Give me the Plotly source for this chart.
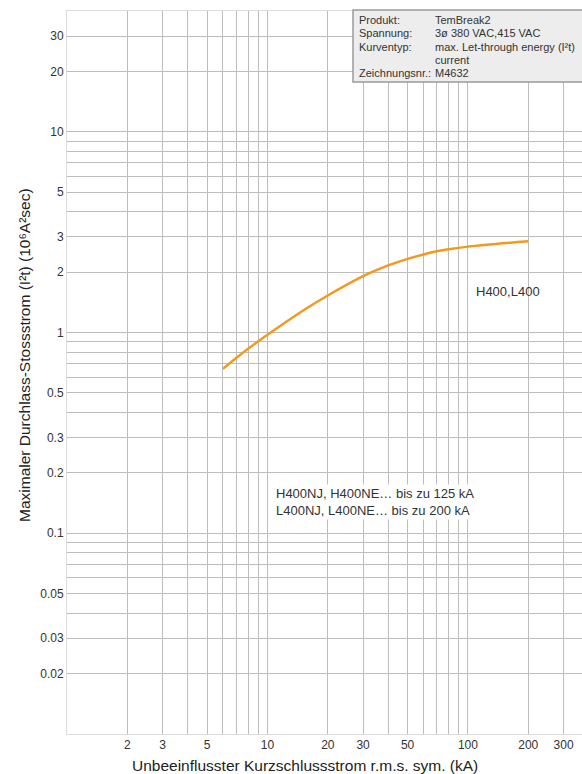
import numpy as np
import plotly.graph_objects as go

# ---- data ----
current_kA = [6, 8, 10, 15, 20, 30, 40, 50, 60, 70, 80, 100, 200]
i2t = [0.66, 0.83, 0.975, 1.285, 1.53, 1.91, 2.16, 2.33, 2.45, 2.54, 2.6, 2.68, 2.85]

x_tick_vals = [2, 3, 5, 10, 20, 30, 50, 100, 200, 300]
x_tick_text = ["2", "3", "5", "10", "20", "30", "50", "100", "200", "300"]
y_tick_vals = [0.02, 0.03, 0.05, 0.1, 0.2, 0.3, 0.5, 1, 2, 3, 5, 10, 20, 30]
y_tick_text = ["0.02", "0.03", "0.05", "0.1", "0.2", "0.3", "0.5", "1", "2", "3", "5", "10", "20", "30"]

x_grid = [m * 10 ** d for d in range(0, 3) for m in range(2, 10)]
y_grid = [m * 10 ** d for d in range(-2, 2) for m in range(2, 10)]

info_labels = ["Produkt:", "Spannung:", "Kurventyp:", "", "Zeichnungsnr.:"]
info_values = ["TemBreak2", "3ø 380 VAC,415 VAC", "max. Let-through energy (I²t)", "current", "M4632"]

W, H = 582, 774
L, R, T, B = 67, 0, 11, 40
pw, ph = W - L - R, H - T - B

def px(x):
    return (x - L) / pw

def py(y):
    return (H - B - y) / ph

fig = go.Figure()
fig.add_trace(go.Scatter(
    x=current_kA, y=i2t, mode="lines",
    line=dict(color="#F39A1E", width=2.5, shape="spline", smoothing=1.0),
    showlegend=False, hoverinfo="skip"))

grid_col = "#BDBDBD"
fig.update_xaxes(
    type="log", range=[0, 2.569],
    tickvals=x_tick_vals, ticktext=x_tick_text,
    showgrid=True, gridcolor=grid_col, gridwidth=1,
    minor=dict(tickvals=x_grid, showgrid=True, gridcolor=grid_col, gridwidth=1, ticks=""),
    showline=True, linecolor="#DDDDDD", linewidth=1, mirror=True,
    ticks="", ticklen=0, zeroline=False, automargin=False,
    tickfont=dict(family="Liberation Sans, Arial", size=12, color="#333333"),
)
fig.update_yaxes(
    type="log", range=[-2, np.log10(40)],
    tickvals=y_tick_vals, ticktext=y_tick_text,
    showgrid=True, gridcolor=grid_col, gridwidth=1,
    minor=dict(tickvals=y_grid, showgrid=True, gridcolor=grid_col, gridwidth=1, ticks=""),
    showline=True, linecolor="#DDDDDD", linewidth=1, mirror=True,
    ticks="", ticklen=0, zeroline=False, automargin=False,
    tickfont=dict(family="Liberation Sans, Arial", size=12, color="#333333"),
)

ann = []
font = "Liberation Sans, Arial"
# axis titles
ann.append(dict(text="Unbeeinflusster Kurzschlussstrom r.m.s. sym. (kA)", xref="paper", yref="paper",
                x=px(305), y=py(765), xanchor="center", yanchor="middle", showarrow=False,
                font=dict(family=font, size=15.5, color="#222222")))
ann.append(dict(text="Maximaler Durchlass-Stossstrom (I²t) (10⁶A²sec)", xref="paper", yref="paper",
                x=px(24), y=py(355), xanchor="center", yanchor="middle", showarrow=False, textangle=-90,
                font=dict(family=font, size=15.5, color="#222222")))
# curve label
ann.append(dict(text="H400,L400", xref="paper", yref="paper", x=px(474), y=py(292),
                xanchor="left", yanchor="middle", showarrow=False,
                font=dict(family=font, size=13, color="#333333")))
ann.append(dict(text="H400NJ, H400NE… bis zu 125 kA<br>L400NJ, L400NE… bis zu 200 kA",
                xref="paper", yref="paper", x=px(274), y=py(502), align="left",
                xanchor="left", yanchor="middle", showarrow=False,
                font=dict(family=font, size=13, color="#333333"),
                bgcolor="white"))
# info box text
rows_y = [20, 33, 47, 60, 73]
for lab, val, yy in zip(info_labels, info_values, rows_y):
    if lab:
        ann.append(dict(text=lab, xref="paper", yref="paper", x=px(357), y=py(yy),
                        xanchor="left", yanchor="middle", showarrow=False,
                        font=dict(family=font, size=11, color="#333333")))
    ann.append(dict(text=val, xref="paper", yref="paper", x=px(433), y=py(yy),
                    xanchor="left", yanchor="middle", showarrow=False,
                    font=dict(family=font, size=11, color="#333333")))

fig.update_layout(
    width=W, height=H,
    margin=dict(l=L, r=R, t=T, b=B),
    paper_bgcolor="white", plot_bgcolor="white",
    annotations=ann,
    shapes=[dict(type="rect", xref="paper", yref="paper",
                 x0=px(353), x1=px(585), y0=py(82), y1=py(10),
                 fillcolor="#EDEDED", line=dict(color="#9A9A9A", width=1.5), layer="above")],
)
fig.write_html("out.html", config={"displayModeBar": False},
               post_script="document.body.style.margin='0';document.body.style.overflow='hidden';")
